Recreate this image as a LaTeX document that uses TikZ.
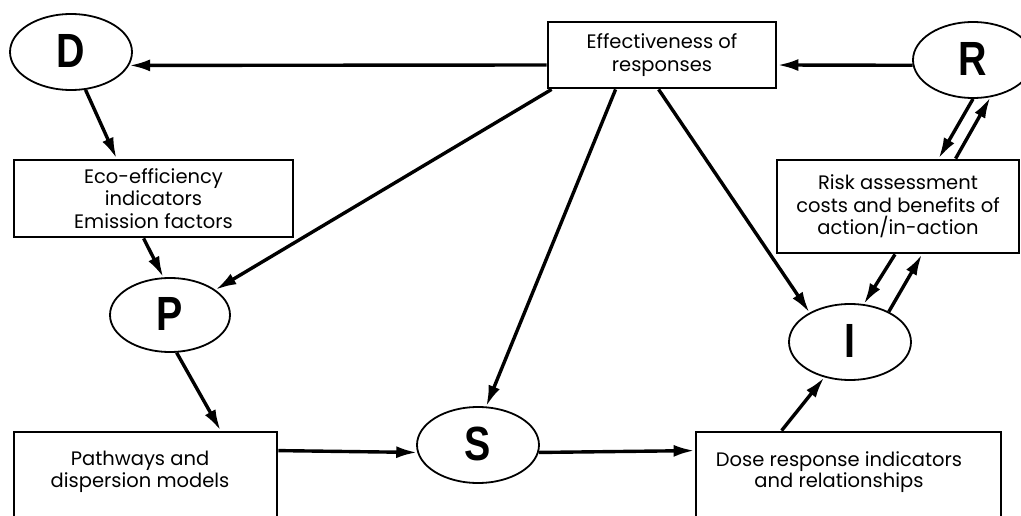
\documentclass[tikz,border=0pt]{standalone}
\usepackage{fontspec}
\setmainfont{Poppins}
\newfontfamily\letterfont{Liberation Sans}
\usetikzlibrary{arrows.meta,shapes.geometric}
\newcommand{\bigletter}[1]{\raisebox{3pt}{\scalebox{0.82}[1]{\letterfont\bfseries\fontsize{48}{48}\selectfont #1}}}
\begin{document}
\begin{tikzpicture}[x=1pt,y=-1pt,
  box/.style={draw, line width=2.8pt, inner sep=0pt, align=center,
    font=\fontsize{19.5}{22.5}\selectfont},
  ell/.style={draw, ellipse, line width=1.8pt, inner sep=0pt,
    minimum width=122pt, minimum height=76pt},
  lbl/.style={align=center, font=\fontsize{19.5}{21.5}\selectfont},
  conn/.style={line width=3.4pt, -{Latex[length=21pt,width=12pt]}}
]
\clip (0,0) rectangle (1021,516);
\useasboundingbox (0,0) rectangle (1021,516);

% ellipses
\node[ell] (D) at (71,52) {\bigletter{D}};
\node[ell, minimum width=120pt, minimum height=74pt] (P) at (170,315) {\bigletter{P}};
\node[ell] (S) at (478,445) {\bigletter{S}};
\node[ell] (I) at (850,342) {\bigletter{I}};
\node[ell, minimum width=120pt] (R) at (973,60) {\bigletter{R}};

% boxes
\node[box, minimum width=228pt, minimum height=66pt] (eff) at (662,55)
  {Effectiveness of\\responses};
\node[box, minimum width=279pt, minimum height=77pt] (eco) at (153.5,198.5)
  {Eco-efficiency\\indicators\\Emission factors};
\node[box, minimum width=242pt, minimum height=93pt] (risk) at (898,206.5)
  {Risk assessment\\costs and benefits of\\action/in-action};
\node[box, minimum width=263pt, minimum height=110pt] (path) at (145.5,487) {};
\node[lbl] (pathtxt) at (140,472) {Pathways and\\dispersion models};
\node[box, minimum width=305pt, minimum height=110pt] (dose) at (848.5,487) {};
\node[lbl] (dosetxt) at (839,472) {Dose response indicators\\and relationships};

% connectors
\draw[conn] ([yshift=-10pt]eff.west) -- (D.-13);
\draw[conn] (R.185) -- ([yshift=-10pt]eff.east);
\draw[conn] (D.-69) -- ([xshift=104pt]eco.north west);
\draw[conn] ([xshift=131pt]eco.south west) -- (P.100);
\draw[conn] ([xshift=5pt]eff.south west) -- (P.29);
\draw[conn] (P.-80) -- ([xshift=208pt]path.north west);
\draw[conn] ([yshift=-20pt]path.north east) -- (S.187);
\draw[conn] (S.-7) -- ([yshift=-20pt]dose.north west);
\draw[conn] ([xshift=87pt]dose.north west) -- (I.-126);
\draw[conn] ([xshift=69pt]eff.south west) -- (S.78);
\draw[conn] ([xshift=112pt]eff.south west) -- (I.144);
\draw[conn] (R.-90) -- ([xshift=163pt]risk.north west);
\draw[conn] ([xshift=180pt]risk.north west) -- (R.-65);
\draw[conn] ([xshift=-3pt]risk.south) -- (I.70);
\draw[conn] (I.38) -- ([xshift=24pt]risk.south);
\end{tikzpicture}
\end{document}
